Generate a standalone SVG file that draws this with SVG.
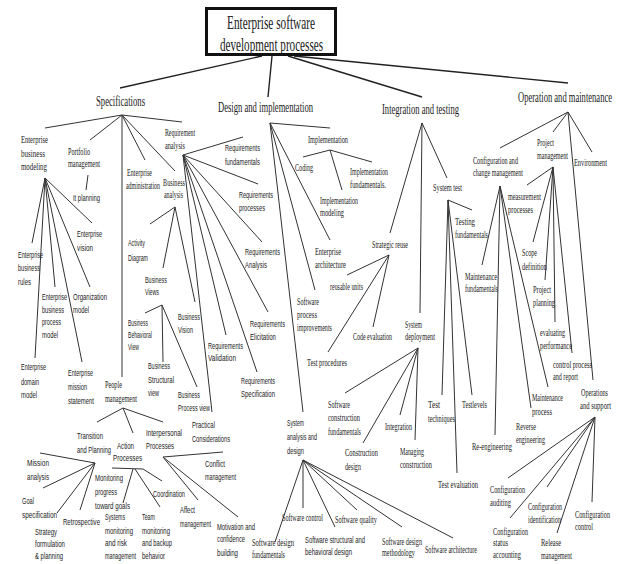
<svg xmlns="http://www.w3.org/2000/svg" width="618" height="564" viewBox="0 0 618 564">
<style>
.c line{stroke:#333;stroke-width:1}
.m line{stroke:#222;stroke-width:1.4}
text{fill:#1a1a1a}
.s{font-family:"Liberation Serif",serif;font-size:10px}
.a{font-family:"Liberation Sans",sans-serif;font-size:9px}
.L{font-family:"Liberation Serif",serif;font-size:14px}
.T{font-family:"Liberation Serif",serif;font-size:18px}
.e{text-anchor:end}
</style>
<rect width="618" height="564" fill="#fff"/>
<g id="connectors">
<g class="m">
<line x1="262" y1="56" x2="120" y2="88"/>
<line x1="272" y1="56" x2="268" y2="97"/>
<line x1="288" y1="56" x2="422" y2="97"/>
<line x1="294" y1="56" x2="568" y2="83"/>
</g>
<g class="c">
<line x1="122" y1="115" x2="45" y2="128"/>
<line x1="122" y1="115" x2="90" y2="140"/>
<line x1="122" y1="115" x2="122" y2="377"/>
<line x1="122" y1="115" x2="145" y2="160"/>
<line x1="122" y1="115" x2="175" y2="171"/>
<line x1="122" y1="115" x2="182" y2="122"/>
<line x1="88" y1="175" x2="86" y2="190"/>
<line x1="45" y1="178" x2="32" y2="243"/>
<line x1="45" y1="178" x2="55" y2="287"/>
<line x1="45" y1="178" x2="92" y2="223"/>
<line x1="45" y1="178" x2="90" y2="287"/>
<line x1="45" y1="178" x2="35" y2="358"/>
<line x1="45" y1="178" x2="82" y2="362"/>
<line x1="183" y1="155" x2="243" y2="137"/>
<line x1="183" y1="155" x2="258" y2="184"/>
<line x1="183" y1="155" x2="262" y2="242"/>
<line x1="183" y1="155" x2="268" y2="312"/>
<line x1="183" y1="155" x2="226" y2="335"/>
<line x1="183" y1="155" x2="257" y2="372"/>
<line x1="183" y1="155" x2="212" y2="412"/>
<line x1="175" y1="207" x2="150" y2="224"/>
<line x1="175" y1="207" x2="163" y2="268"/>
<line x1="175" y1="207" x2="195" y2="302"/>
<line x1="162" y1="305" x2="145" y2="313"/>
<line x1="162" y1="305" x2="163" y2="362"/>
<line x1="162" y1="305" x2="197" y2="387"/>
<line x1="123" y1="408" x2="97" y2="422"/>
<line x1="123" y1="408" x2="133" y2="433"/>
<line x1="123" y1="408" x2="163" y2="422"/>
<line x1="95" y1="463" x2="40" y2="453"/>
<line x1="95" y1="463" x2="43" y2="488"/>
<line x1="95" y1="463" x2="57" y2="513"/>
<line x1="95" y1="463" x2="80" y2="510"/>
<line x1="112" y1="468" x2="143" y2="469"/>
<line x1="133" y1="469" x2="123" y2="503"/>
<line x1="135" y1="469" x2="160" y2="507"/>
<line x1="143" y1="469" x2="162" y2="481"/>
<line x1="163" y1="457" x2="223" y2="452"/>
<line x1="163" y1="457" x2="198" y2="500"/>
<line x1="163" y1="457" x2="238" y2="517"/>
<line x1="270" y1="123" x2="330" y2="128"/>
<line x1="270" y1="123" x2="330" y2="240"/>
<line x1="270" y1="123" x2="315" y2="290"/>
<line x1="270" y1="123" x2="303" y2="412"/>
<line x1="330" y1="150" x2="303" y2="157"/>
<line x1="330" y1="150" x2="372" y2="162"/>
<line x1="330" y1="150" x2="342" y2="190"/>
<line x1="303" y1="460" x2="275" y2="542"/>
<line x1="303" y1="460" x2="303" y2="508"/>
<line x1="303" y1="460" x2="357" y2="510"/>
<line x1="303" y1="460" x2="335" y2="527"/>
<line x1="303" y1="460" x2="402" y2="527"/>
<line x1="303" y1="460" x2="453" y2="538"/>
<line x1="422" y1="123" x2="390" y2="233"/>
<line x1="422" y1="123" x2="420" y2="313"/>
<line x1="422" y1="123" x2="447" y2="178"/>
<line x1="389" y1="255" x2="347" y2="275"/>
<line x1="389" y1="255" x2="373" y2="327"/>
<line x1="389" y1="255" x2="328" y2="352"/>
<line x1="418" y1="348" x2="345" y2="393"/>
<line x1="418" y1="348" x2="363" y2="443"/>
<line x1="418" y1="348" x2="400" y2="415"/>
<line x1="418" y1="348" x2="415" y2="440"/>
<line x1="448" y1="200" x2="472" y2="210"/>
<line x1="448" y1="200" x2="442" y2="395"/>
<line x1="448" y1="200" x2="472" y2="395"/>
<line x1="448" y1="200" x2="457" y2="473"/>
<line x1="568" y1="112" x2="500" y2="148"/>
<line x1="568" y1="112" x2="553" y2="132"/>
<line x1="568" y1="112" x2="592" y2="152"/>
<line x1="568" y1="112" x2="593" y2="380"/>
<line x1="553" y1="167" x2="527" y2="185"/>
<line x1="553" y1="167" x2="533" y2="242"/>
<line x1="553" y1="167" x2="545" y2="280"/>
<line x1="553" y1="167" x2="555" y2="322"/>
<line x1="553" y1="167" x2="572" y2="353"/>
<line x1="500" y1="186" x2="482" y2="265"/>
<line x1="500" y1="186" x2="495" y2="435"/>
<line x1="500" y1="186" x2="531" y2="408"/>
<line x1="500" y1="186" x2="548" y2="387"/>
<line x1="595" y1="417" x2="508" y2="478"/>
<line x1="595" y1="417" x2="510" y2="518"/>
<line x1="595" y1="417" x2="547" y2="487"/>
<line x1="595" y1="417" x2="557" y2="533"/>
<line x1="595" y1="417" x2="592" y2="502"/>
</g>
</g>

<g id="root">
<rect x="206.5" y="8.5" width="129" height="46" fill="#fff" stroke="#111" stroke-width="3"/>
<text class="T" x="227" y="29" textLength="88" lengthAdjust="spacingAndGlyphs">Enterprise software</text>
<text class="T" x="220" y="51" textLength="103" lengthAdjust="spacingAndGlyphs">development processes</text>
</g>
<g id="specifications"><text class="L" x="96" y="106" textLength="49" lengthAdjust="spacingAndGlyphs">Specifications</text></g>
<g id="design"><text class="L" x="218" y="112" textLength="95" lengthAdjust="spacingAndGlyphs">Design and implementation</text></g>
<g id="integration"><text class="L" x="382" y="114" textLength="77" lengthAdjust="spacingAndGlyphs">Integration and testing</text></g>
<g id="operation"><text class="L e" x="612" y="102" textLength="94" lengthAdjust="spacingAndGlyphs">Operation and maintenance</text></g>

<g id="ebm">
<text class="s" x="21" y="143" textLength="27" lengthAdjust="spacingAndGlyphs">Enterprise</text>
<text class="s" x="21" y="157" textLength="24" lengthAdjust="spacingAndGlyphs">business</text>
<text class="s" x="21" y="170" textLength="26" lengthAdjust="spacingAndGlyphs">modeling</text>
</g>
<g id="portfolio">
<text class="s" x="68" y="155" textLength="22" lengthAdjust="spacingAndGlyphs">Portfolio</text>
<text class="s" x="68" y="167" textLength="32" lengthAdjust="spacingAndGlyphs">management</text>
</g>
<g id="itplanning"><text class="a" x="73" y="201" textLength="27" lengthAdjust="spacingAndGlyphs">It planning</text></g>
<g id="evision">
<text class="a" x="77" y="237" textLength="25" lengthAdjust="spacingAndGlyphs">Enterprise</text>
<text class="a" x="77" y="251" textLength="16" lengthAdjust="spacingAndGlyphs">vision</text>
</g>
<g id="erules">
<text class="a" x="18" y="258" textLength="25" lengthAdjust="spacingAndGlyphs">Enterprise</text>
<text class="a" x="18" y="271" textLength="22" lengthAdjust="spacingAndGlyphs">business</text>
<text class="a" x="18" y="285" textLength="13" lengthAdjust="spacingAndGlyphs">rules</text>
</g>
<g id="ebpm">
<text class="a" x="42" y="300" textLength="25" lengthAdjust="spacingAndGlyphs">Enterprise</text>
<text class="a" x="42" y="313" textLength="22" lengthAdjust="spacingAndGlyphs">business</text>
<text class="a" x="42" y="325" textLength="19" lengthAdjust="spacingAndGlyphs">process</text>
<text class="a" x="42" y="338" textLength="16" lengthAdjust="spacingAndGlyphs">model</text>
</g>
<g id="orgmodel">
<text class="a" x="73" y="300" textLength="34" lengthAdjust="spacingAndGlyphs">Organization</text>
<text class="a" x="73" y="313" textLength="16" lengthAdjust="spacingAndGlyphs">model</text>
</g>
<g id="edomain">
<text class="a" x="21" y="370" textLength="25" lengthAdjust="spacingAndGlyphs">Enterprise</text>
<text class="a" x="21" y="385" textLength="18" lengthAdjust="spacingAndGlyphs">domain</text>
<text class="a" x="21" y="398" textLength="16" lengthAdjust="spacingAndGlyphs">model</text>
</g>
<g id="emission">
<text class="a" x="68" y="376" textLength="25" lengthAdjust="spacingAndGlyphs">Enterprise</text>
<text class="a" x="68" y="390" textLength="19" lengthAdjust="spacingAndGlyphs">mission</text>
<text class="a" x="68" y="404" textLength="26" lengthAdjust="spacingAndGlyphs">statement</text>
</g>
<g id="eadmin">
<text class="s" x="127" y="176" textLength="25" lengthAdjust="spacingAndGlyphs">Enterprise</text>
<text class="s" x="126" y="189" textLength="34" lengthAdjust="spacingAndGlyphs">administration</text>
</g>
<g id="banalysis">
<text class="s" x="163" y="186" textLength="22" lengthAdjust="spacingAndGlyphs">Business</text>
<text class="s" x="164" y="198" textLength="19" lengthAdjust="spacingAndGlyphs">analysis</text>
</g>
<g id="reqanalysis">
<text class="s" x="165" y="136" textLength="30" lengthAdjust="spacingAndGlyphs">Requirement</text>
<text class="s" x="165" y="149" textLength="20" lengthAdjust="spacingAndGlyphs">analysis</text>
</g>
<g id="activity">
<text class="a" x="128" y="246" textLength="17" lengthAdjust="spacingAndGlyphs">Activity</text>
<text class="a" x="128" y="261" textLength="20" lengthAdjust="spacingAndGlyphs">Diagram</text>
</g>
<g id="bviews">
<text class="a" x="145" y="283" textLength="22" lengthAdjust="spacingAndGlyphs">Business</text>
<text class="a" x="145" y="295" textLength="14" lengthAdjust="spacingAndGlyphs">Views</text>
</g>
<g id="bbehav">
<text class="a" x="128" y="326" textLength="20" lengthAdjust="spacingAndGlyphs">Business</text>
<text class="a" x="128" y="338" textLength="24" lengthAdjust="spacingAndGlyphs">Behavioral</text>
<text class="a" x="128" y="350" textLength="11" lengthAdjust="spacingAndGlyphs">View</text>
</g>
<g id="bstruct">
<text class="a" x="148" y="369" textLength="22" lengthAdjust="spacingAndGlyphs">Business</text>
<text class="a" x="148" y="383" textLength="26" lengthAdjust="spacingAndGlyphs">Structural</text>
<text class="a" x="148" y="396" textLength="11" lengthAdjust="spacingAndGlyphs">view</text>
</g>
<g id="bprocess">
<text class="a" x="178" y="398" textLength="22" lengthAdjust="spacingAndGlyphs">Business</text>
<text class="a" x="178" y="411" textLength="32" lengthAdjust="spacingAndGlyphs">Process view</text>
</g>
<g id="bvision">
<text class="a" x="178" y="320" textLength="22" lengthAdjust="spacingAndGlyphs">Business</text>
<text class="a" x="178" y="333" textLength="15" lengthAdjust="spacingAndGlyphs">Vision</text>
</g>
<g id="rfund">
<text class="a" x="225" y="151" textLength="35" lengthAdjust="spacingAndGlyphs">Requirements</text>
<text class="a" x="225" y="165" textLength="35" lengthAdjust="spacingAndGlyphs">fundamentals</text>
</g>
<g id="rproc">
<text class="a" x="239" y="198" textLength="34" lengthAdjust="spacingAndGlyphs">Requirements</text>
<text class="a" x="239" y="211" textLength="26" lengthAdjust="spacingAndGlyphs">processes</text>
</g>
<g id="ranal">
<text class="a" x="245" y="255" textLength="35" lengthAdjust="spacingAndGlyphs">Requirements</text>
<text class="a" x="245" y="268" textLength="22" lengthAdjust="spacingAndGlyphs">Analysis</text>
</g>
<g id="relic">
<text class="a" x="250" y="327" textLength="35" lengthAdjust="spacingAndGlyphs">Requirements</text>
<text class="a" x="250" y="340" textLength="26" lengthAdjust="spacingAndGlyphs">Elicitation</text>
</g>
<g id="rvalid">
<text class="a" x="208" y="349" textLength="35" lengthAdjust="spacingAndGlyphs">Requirements</text>
<text class="a" x="208" y="361" textLength="28" lengthAdjust="spacingAndGlyphs">Validation</text>
</g>
<g id="rspec">
<text class="a" x="241" y="384" textLength="34" lengthAdjust="spacingAndGlyphs">Requirements</text>
<text class="a" x="241" y="397" textLength="34" lengthAdjust="spacingAndGlyphs">Specification</text>
</g>
<g id="practical">
<text class="a" x="192" y="428" textLength="23" lengthAdjust="spacingAndGlyphs">Practical</text>
<text class="a" x="192" y="442" textLength="38" lengthAdjust="spacingAndGlyphs">Considerations</text>
</g>
<g id="people">
<text class="s" x="105" y="388" textLength="17" lengthAdjust="spacingAndGlyphs">People</text>
<text class="s" x="105" y="402" textLength="32" lengthAdjust="spacingAndGlyphs">management</text>
</g>
<g id="transition">
<text class="a" x="77" y="439" textLength="26" lengthAdjust="spacingAndGlyphs">Transition</text>
<text class="a" x="77" y="453" textLength="34" lengthAdjust="spacingAndGlyphs">and Planning</text>
</g>
<g id="action">
<text class="a" x="117" y="449" textLength="17" lengthAdjust="spacingAndGlyphs">Action</text>
<text class="a" x="113" y="461" textLength="29" lengthAdjust="spacingAndGlyphs">Processes</text>
</g>
<g id="interpersonal">
<text class="a" x="146" y="436" textLength="36" lengthAdjust="spacingAndGlyphs">Interpersonal</text>
<text class="a" x="146" y="449" textLength="28" lengthAdjust="spacingAndGlyphs">Processes</text>
</g>
<g id="mission">
<text class="a" x="27" y="466" textLength="22" lengthAdjust="spacingAndGlyphs">Mission</text>
<text class="a" x="27" y="480" textLength="22" lengthAdjust="spacingAndGlyphs">analysis</text>
</g>
<g id="goal">
<text class="a" x="22" y="504" textLength="12" lengthAdjust="spacingAndGlyphs">Goal</text>
<text class="a" x="22" y="518" textLength="35" lengthAdjust="spacingAndGlyphs">specification</text>
</g>
<g id="strategy">
<text class="a" x="35" y="535" textLength="22" lengthAdjust="spacingAndGlyphs">Strategy</text>
<text class="a" x="35" y="547" textLength="30" lengthAdjust="spacingAndGlyphs">formulation</text>
<text class="a" x="35" y="559" textLength="28" lengthAdjust="spacingAndGlyphs">&amp; planning</text>
</g>
<g id="retro"><text class="a" x="63" y="525" textLength="37" lengthAdjust="spacingAndGlyphs">Retrospective</text></g>
<g id="monitoring">
<text class="a" x="95" y="481" textLength="28" lengthAdjust="spacingAndGlyphs">Monitoring</text>
<text class="a" x="95" y="495" textLength="22" lengthAdjust="spacingAndGlyphs">progress</text>
<text class="a" x="95" y="509" textLength="35" lengthAdjust="spacingAndGlyphs">toward goals</text>
</g>
<g id="systemsmon">
<text class="a" x="105" y="520" textLength="20" lengthAdjust="spacingAndGlyphs">Systems</text>
<text class="a" x="105" y="534" textLength="28" lengthAdjust="spacingAndGlyphs">monitoring</text>
<text class="a" x="105" y="546" textLength="22" lengthAdjust="spacingAndGlyphs">and risk</text>
<text class="a" x="105" y="559" textLength="31" lengthAdjust="spacingAndGlyphs">management</text>
</g>
<g id="teammon">
<text class="a" x="142" y="520" textLength="13" lengthAdjust="spacingAndGlyphs">Team</text>
<text class="a" x="142" y="534" textLength="28" lengthAdjust="spacingAndGlyphs">monitoring</text>
<text class="a" x="142" y="546" textLength="30" lengthAdjust="spacingAndGlyphs">and backup</text>
<text class="a" x="142" y="559" textLength="23" lengthAdjust="spacingAndGlyphs">behavior</text>
</g>
<g id="coordination"><text class="a" x="153" y="497" textLength="32" lengthAdjust="spacingAndGlyphs">Coordination</text></g>
<g id="affect">
<text class="a" x="180" y="513" textLength="15" lengthAdjust="spacingAndGlyphs">Affect</text>
<text class="a" x="180" y="527" textLength="31" lengthAdjust="spacingAndGlyphs">management</text>
</g>
<g id="conflict">
<text class="a" x="205" y="467" textLength="20" lengthAdjust="spacingAndGlyphs">Conflict</text>
<text class="a" x="205" y="480" textLength="31" lengthAdjust="spacingAndGlyphs">management</text>
</g>
<g id="motivation">
<text class="a" x="217" y="530" textLength="38" lengthAdjust="spacingAndGlyphs">Motivation and</text>
<text class="a" x="217" y="542" textLength="28" lengthAdjust="spacingAndGlyphs">confidence</text>
<text class="a" x="217" y="556" textLength="21" lengthAdjust="spacingAndGlyphs">building</text>
</g>

<g id="implementation"><text class="s" x="308" y="143" textLength="40" lengthAdjust="spacingAndGlyphs">Implementation</text></g>
<g id="coding"><text class="s" x="295" y="171" textLength="18" lengthAdjust="spacingAndGlyphs">Coding</text></g>
<g id="implfund">
<text class="s" x="350" y="175" textLength="38" lengthAdjust="spacingAndGlyphs">Implementation</text>
<text class="s" x="350" y="188" textLength="36" lengthAdjust="spacingAndGlyphs">fundamentals.</text>
</g>
<g id="implmodel">
<text class="s" x="320" y="204" textLength="38" lengthAdjust="spacingAndGlyphs">Implementation</text>
<text class="s" x="320" y="216" textLength="24" lengthAdjust="spacingAndGlyphs">modeling</text>
</g>
<g id="entarch">
<text class="s" x="315" y="255" textLength="26" lengthAdjust="spacingAndGlyphs">Enterprise</text>
<text class="s" x="315" y="268" textLength="31" lengthAdjust="spacingAndGlyphs">architecture</text>
</g>
<g id="spi">
<text class="s" x="297" y="305" textLength="22" lengthAdjust="spacingAndGlyphs">Software</text>
<text class="s" x="297" y="318" textLength="20" lengthAdjust="spacingAndGlyphs">process</text>
<text class="s" x="297" y="331" textLength="35" lengthAdjust="spacingAndGlyphs">improvements</text>
</g>
<g id="sad">
<text class="a" x="287" y="426" textLength="17" lengthAdjust="spacingAndGlyphs">System</text>
<text class="a" x="287" y="440" textLength="30" lengthAdjust="spacingAndGlyphs">analysis and</text>
<text class="a" x="287" y="454" textLength="17" lengthAdjust="spacingAndGlyphs">design</text>
</g>
<g id="sdfund">
<text class="s" x="252" y="546" textLength="42" lengthAdjust="spacingAndGlyphs">Software design</text>
<text class="s" x="252" y="558" textLength="33" lengthAdjust="spacingAndGlyphs">fundamentals</text>
</g>
<g id="scontrol"><text class="s" x="282" y="521" textLength="41" lengthAdjust="spacingAndGlyphs">Software control</text></g>
<g id="squality"><text class="s" x="335" y="523" textLength="42" lengthAdjust="spacingAndGlyphs">Software quality</text></g>
<g id="sstruct">
<text class="a" x="305" y="543" textLength="60" lengthAdjust="spacingAndGlyphs">Software structural and</text>
<text class="a" x="305" y="555" textLength="47" lengthAdjust="spacingAndGlyphs">behavioral design</text>
</g>
<g id="smethod">
<text class="s" x="382" y="545" textLength="40" lengthAdjust="spacingAndGlyphs">Software design</text>
<text class="s" x="382" y="556" textLength="33" lengthAdjust="spacingAndGlyphs">methodology</text>
</g>
<g id="sarch"><text class="s" x="425" y="553" textLength="52" lengthAdjust="spacingAndGlyphs">Software architecture</text></g>

<g id="sreuse"><text class="s" x="372" y="248" textLength="36" lengthAdjust="spacingAndGlyphs">Strategic reuse</text></g>
<g id="reusable"><text class="s" x="330" y="290" textLength="33" lengthAdjust="spacingAndGlyphs">reusable units</text></g>
<g id="codeeval"><text class="s" x="353" y="340" textLength="39" lengthAdjust="spacingAndGlyphs">Code evaluation</text></g>
<g id="testproc"><text class="s" x="307" y="366" textLength="40" lengthAdjust="spacingAndGlyphs">Test procedures</text></g>
<g id="sysdeploy">
<text class="s" x="405" y="328" textLength="17" lengthAdjust="spacingAndGlyphs">System</text>
<text class="s" x="405" y="340" textLength="30" lengthAdjust="spacingAndGlyphs">deployment</text>
</g>
<g id="systest"><text class="s" x="433" y="191" textLength="29" lengthAdjust="spacingAndGlyphs">System test</text></g>
<g id="testfund">
<text class="s" x="455" y="225" textLength="20" lengthAdjust="spacingAndGlyphs">Testing</text>
<text class="s" x="455" y="238" textLength="33" lengthAdjust="spacingAndGlyphs">fundamentals</text>
</g>
<g id="scfund">
<text class="s" x="328" y="408" textLength="22" lengthAdjust="spacingAndGlyphs">Software</text>
<text class="s" x="328" y="421" textLength="32" lengthAdjust="spacingAndGlyphs">construction</text>
<text class="s" x="328" y="435" textLength="33" lengthAdjust="spacingAndGlyphs">fundamentals</text>
</g>
<g id="cdesign">
<text class="s" x="345" y="456" textLength="33" lengthAdjust="spacingAndGlyphs">Construction</text>
<text class="s" x="345" y="470" textLength="16" lengthAdjust="spacingAndGlyphs">design</text>
</g>
<g id="integ"><text class="s" x="385" y="430" textLength="27" lengthAdjust="spacingAndGlyphs">Integration</text></g>
<g id="managing">
<text class="s" x="400" y="455" textLength="24" lengthAdjust="spacingAndGlyphs">Managing</text>
<text class="s" x="400" y="468" textLength="32" lengthAdjust="spacingAndGlyphs">construction</text>
</g>
<g id="testtech">
<text class="s" x="428" y="408" textLength="12" lengthAdjust="spacingAndGlyphs">Test</text>
<text class="s" x="428" y="422" textLength="27" lengthAdjust="spacingAndGlyphs">techniques</text>
</g>
<g id="testlevels"><text class="s" x="462" y="408" textLength="25" lengthAdjust="spacingAndGlyphs">Testlevels</text></g>
<g id="testeval"><text class="s" x="438" y="488" textLength="40" lengthAdjust="spacingAndGlyphs">Test evaluation</text></g>

<g id="configchange">
<text class="s" x="473" y="164" textLength="45" lengthAdjust="spacingAndGlyphs">Configuration and</text>
<text class="s" x="473" y="176" textLength="50" lengthAdjust="spacingAndGlyphs">change management</text>
</g>
<g id="projmgmt">
<text class="s" x="537" y="146" textLength="17" lengthAdjust="spacingAndGlyphs">Project</text>
<text class="s" x="537" y="159" textLength="31" lengthAdjust="spacingAndGlyphs">management</text>
</g>
<g id="environment"><text class="s e" x="607" y="166" textLength="33" lengthAdjust="spacingAndGlyphs">Environment</text></g>
<g id="measurement">
<text class="s" x="508" y="200" textLength="33" lengthAdjust="spacingAndGlyphs">measurement</text>
<text class="s" x="508" y="213" textLength="25" lengthAdjust="spacingAndGlyphs">processes</text>
</g>
<g id="scope">
<text class="s" x="522" y="256" textLength="15" lengthAdjust="spacingAndGlyphs">Scope</text>
<text class="s" x="522" y="270" textLength="25" lengthAdjust="spacingAndGlyphs">definition</text>
</g>
<g id="projplan">
<text class="s" x="533" y="293" textLength="18" lengthAdjust="spacingAndGlyphs">Project</text>
<text class="s" x="533" y="306" textLength="22" lengthAdjust="spacingAndGlyphs">planning</text>
</g>
<g id="evalperf">
<text class="s" x="540" y="336" textLength="25" lengthAdjust="spacingAndGlyphs">evaluating</text>
<text class="s" x="540" y="349" textLength="32" lengthAdjust="spacingAndGlyphs">performance</text>
</g>
<g id="controlproc">
<text class="s" x="553" y="368" textLength="39" lengthAdjust="spacingAndGlyphs">control process</text>
<text class="s" x="553" y="380" textLength="25" lengthAdjust="spacingAndGlyphs">and report</text>
</g>
<g id="maintfund">
<text class="s" x="465" y="280" textLength="32" lengthAdjust="spacingAndGlyphs">Maintenance</text>
<text class="s" x="465" y="292" textLength="33" lengthAdjust="spacingAndGlyphs">fundamentals</text>
</g>
<g id="maintproc">
<text class="s" x="532" y="401" textLength="31" lengthAdjust="spacingAndGlyphs">Maintenance</text>
<text class="s" x="532" y="415" textLength="20" lengthAdjust="spacingAndGlyphs">process</text>
</g>
<g id="reverse">
<text class="s" x="516" y="430" textLength="20" lengthAdjust="spacingAndGlyphs">Reverse</text>
<text class="s" x="516" y="443" textLength="29" lengthAdjust="spacingAndGlyphs">engineering</text>
</g>
<g id="reeng"><text class="s" x="472" y="450" textLength="40" lengthAdjust="spacingAndGlyphs">Re-engineering</text></g>
<g id="opsupport">
<text class="s e" x="608" y="396" textLength="27" lengthAdjust="spacingAndGlyphs">Operations</text>
<text class="s e" x="611" y="409" textLength="31" lengthAdjust="spacingAndGlyphs">and support</text>
</g>
<g id="confaudit">
<text class="s" x="490" y="493" textLength="35" lengthAdjust="spacingAndGlyphs">Configuration</text>
<text class="s" x="490" y="506" textLength="21" lengthAdjust="spacingAndGlyphs">auditing</text>
</g>
<g id="confstatus">
<text class="s" x="493" y="535" textLength="35" lengthAdjust="spacingAndGlyphs">Configuration</text>
<text class="s" x="493" y="546" textLength="15" lengthAdjust="spacingAndGlyphs">status</text>
<text class="s" x="493" y="558" textLength="28" lengthAdjust="spacingAndGlyphs">accounting</text>
</g>
<g id="confident">
<text class="s" x="528" y="510" textLength="34" lengthAdjust="spacingAndGlyphs">Configuration</text>
<text class="s" x="528" y="523" textLength="33" lengthAdjust="spacingAndGlyphs">identification</text>
</g>
<g id="release">
<text class="s" x="541" y="546" textLength="20" lengthAdjust="spacingAndGlyphs">Release</text>
<text class="s" x="541" y="559" textLength="31" lengthAdjust="spacingAndGlyphs">management</text>
</g>
<g id="confcontrol">
<text class="s e" x="610" y="518" textLength="35" lengthAdjust="spacingAndGlyphs">Configuration</text>
<text class="s" x="575" y="530" textLength="18" lengthAdjust="spacingAndGlyphs">control</text>
</g>
</svg>
